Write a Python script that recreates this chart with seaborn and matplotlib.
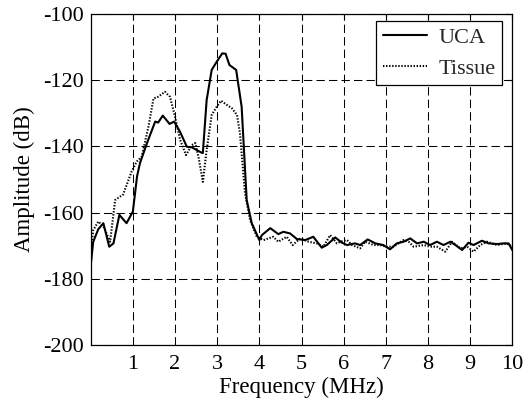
import matplotlib
matplotlib.use("Agg")
import matplotlib.pyplot as plt
import seaborn as sns
import pandas as pd

uca_freq = [0.0, 0.06, 0.18, 0.3, 0.44, 0.54, 0.68, 0.85, 1.0, 1.1, 1.17, 1.35, 1.53, 1.6, 1.71, 1.87, 1.98,
            2.12, 2.28, 2.4, 2.63, 2.66, 2.75, 2.87, 2.99, 3.12, 3.2, 3.29, 3.45, 3.58, 3.7, 3.82, 4.0,
            4.06, 4.26, 4.45, 4.57, 4.73, 4.89, 5.09, 5.28, 5.48, 5.6, 5.8, 5.96, 6.08, 6.27, 6.39,
            6.57, 6.75, 6.94, 7.1, 7.26, 7.42, 7.58, 7.74, 7.9, 8.05, 8.21, 8.37, 8.53, 8.65, 8.81,
            8.96, 9.08, 9.28, 9.44, 9.64, 9.79, 9.91, 10.0]
uca_amp = [-176.0, -168.8, -165.0, -163.2, -170.3, -169.3, -160.7, -163.2, -159.7, -149.0, -145.0, -138.5,
           -132.5, -132.8, -130.7, -133.2, -132.5, -135.6, -140.1, -140.3, -141.9, -142.0, -126.0,
           -116.9, -114.4, -111.9, -112.0, -115.4, -116.9, -128.0, -156.2, -163.2, -168.3, -166.8,
           -164.7, -166.5, -165.8, -166.3, -168.0, -168.3, -167.3, -170.6, -169.8, -167.5, -169.1,
           -169.8, -169.3, -169.8, -168.1, -169.3, -169.8, -171.1, -169.3, -168.8, -167.8, -169.3,
           -168.8, -169.8, -168.8, -169.8, -168.8, -169.8, -171.3, -169.1, -169.8, -168.5, -169.3,
           -169.5, -169.3, -169.3, -171.3]

tissue_freq = [0.0, 0.06, 0.18, 0.3, 0.46, 0.58, 0.77, 0.97, 1.09, 1.21, 1.37, 1.49, 1.6, 1.76, 1.88, 2.0,
               2.12, 2.26, 2.4, 2.48, 2.56, 2.66, 2.75, 2.87, 2.99, 3.09, 3.2, 3.35, 3.47, 3.54, 3.66,
               3.78, 3.94, 4.1, 4.33, 4.45, 4.65, 4.79, 4.97, 5.17, 5.36, 5.52, 5.68, 5.84, 5.92, 6.08,
               6.2, 6.39, 6.51, 6.71, 6.86, 7.02, 7.18, 7.42, 7.54, 7.66, 7.9, 8.05, 8.21, 8.41, 8.57,
               8.77, 8.93, 9.08, 9.24, 9.4, 9.64, 9.87, 10.0]
tissue_amp = [-172.0, -165.3, -162.7, -164.1, -168.8, -156.2, -154.5, -147.6, -144.6, -143.1, -134.0,
              -125.5, -125.0, -123.5, -125.0, -131.0, -138.0, -142.6, -139.6, -139.0, -143.4, -150.7,
              -141.1, -130.5, -128.0, -126.2, -127.2, -128.5, -130.5, -136.0, -154.2, -162.2, -167.3,
              -168.3, -167.3, -168.8, -167.3, -169.8, -167.8, -168.8, -169.3, -170.3, -166.8, -169.3,
              -168.8, -168.3, -169.8, -170.8, -168.8, -169.8, -169.8, -170.3, -170.3, -168.3, -168.8,
              -170.3, -169.8, -170.3, -170.3, -171.8, -168.8, -170.8, -170.3, -171.8, -169.8, -168.8,
              -169.8, -169.3, -170.3]

x_ticks = [1, 2, 3, 4, 5, 6, 7, 8, 9, 10]
y_ticks = [-200, -180, -160, -140, -120, -100]

sns.set_theme(style="white")
plt.rcParams['font.family'] = ['Liberation Serif', 'DejaVu Serif']
plt.rcParams['axes.unicode_minus'] = False
plt.rcParams['lines.scale_dashes'] = False

fig = plt.figure(figsize=(5.32, 4.07), dpi=100)
ax = fig.add_axes([90.7/532, 1-345/407, (512.3-90.7)/532, (345-14)/407])

df_u = pd.DataFrame({"f": uca_freq, "a": uca_amp})
df_t = pd.DataFrame({"f": tissue_freq, "a": tissue_amp})
sns.lineplot(data=df_u, x="f", y="a", ax=ax, color="black", linewidth=1.5, label="UCA")
sns.lineplot(data=df_t, x="f", y="a", ax=ax, color="black", linewidth=1.5, linestyle=(0, (1, 1.2)),
             label="Tissue")

ax.set_xlim(0, 10)
ax.set_ylim(-200, -100)
ax.set_xticks(x_ticks)
ax.set_yticks(y_ticks)
ax.set_xticklabels([str(t) for t in x_ticks])
ax.set_yticklabels([str(t) for t in y_ticks])
ax.tick_params(direction="in", length=4, width=0.8, colors="black", labelsize=16,
               top=True, right=True)
ax.tick_params(axis="x", pad=7)
ax.tick_params(axis="y", pad=5)
ax.grid(True, color="black", linestyle=(0, (6, 3)), linewidth=0.75)
for s in ax.spines.values():
    s.set_color("black")
    s.set_linewidth(0.9)
ax.set_xlabel("Frequency (MHz)", fontsize=16.5, color="black", labelpad=2)
ax.set_ylabel("Amplitude (dB)", fontsize=16.5, color="black", labelpad=6)

leg = ax.legend(loc="upper right", bbox_to_anchor=(0.9765, 0.979), fontsize=16, frameon=True,
                fancybox=False, framealpha=1, edgecolor="black", borderpad=0.3, labelspacing=0.45,
                handlelength=2.0, handletextpad=0.5, borderaxespad=0.0)
leg.get_frame().set_linewidth(0.9)

fig.savefig("out.png", dpi=100)
